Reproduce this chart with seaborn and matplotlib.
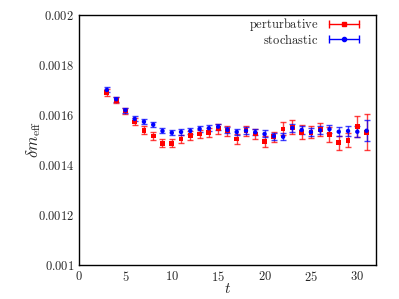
import matplotlib
matplotlib.use('Agg')
import matplotlib.pyplot as plt
import seaborn as sns
import pandas as pd
from matplotlib.lines import Line2D
from matplotlib.legend_handler import HandlerLine2D, HandlerTuple
from matplotlib.ticker import MultipleLocator, FuncFormatter

t = list(range(3, 32))

pert = [0.001691, 0.001659, 0.001616, 0.001572, 0.001539, 0.001516, 0.001487, 0.001487,
        0.001504, 0.001517, 0.001524, 0.001529, 0.001545, 0.001537, 0.001504, 0.001537,
        0.001524, 0.001493, 0.001513, 0.001544, 0.001551, 0.001531, 0.001531, 0.001541,
        0.001521, 0.001489, 0.001499, 0.001553, 0.001531]
pert_err = [0.000014, 0.000012, 0.000013, 0.000014, 0.000015, 0.000015, 0.000016, 0.000016,
            0.000016, 0.000017, 0.000017, 0.000017, 0.00002, 0.00002, 0.00002, 0.00002,
            0.000021, 0.000023, 0.00002, 0.000026, 0.000027, 0.000029, 0.000025, 0.000027,
            0.000029, 0.000028, 0.000029, 0.000043, 0.000073]

stoch = [0.0017, 0.001663, 0.001619, 0.001584, 0.001573, 0.001561, 0.001536, 0.001529,
         0.001532, 0.001536, 0.001544, 0.001547, 0.001553, 0.00154, 0.001532, 0.001537,
         0.001531, 0.001524, 0.001515, 0.001513, 0.001548, 0.00154, 0.001532, 0.001539,
         0.001543, 0.001533, 0.001536, 0.001533, 0.001537]
stoch_err = [0.00001, 0.00001, 0.00001, 0.00001, 0.00001, 0.00001, 0.00001, 0.00001,
             0.000011, 0.000011, 0.000012, 0.000012, 0.000012, 0.000012, 0.000013, 0.000013,
             0.000013, 0.000014, 0.000014, 0.000015, 0.000015, 0.000016, 0.000016, 0.000017,
             0.000017, 0.000018, 0.000019, 0.000023, 0.000042]

df = pd.DataFrame({'t': t, 'pert': pert, 'pert_err': pert_err,
                   'stoch': stoch, 'stoch_err': stoch_err})

sns.set_style('white')
plt.rcParams['font.family'] = ['DejaVu Serif']
plt.rcParams['mathtext.fontset'] = 'cm'

fig = plt.figure(figsize=(3.99, 2.99), dpi=100)
ax = fig.add_axes([0.198, 0.1137, 0.744, 0.8363])

ax.errorbar(df['t'], df['pert'], yerr=df['pert_err'], fmt='none', ecolor='red',
            elinewidth=1.0, capsize=2, capthick=1.0, alpha=0.75)
sns.scatterplot(data=df, x='t', y='pert', ax=ax, color='red', marker='s', s=12,
                edgecolor='none', zorder=3)
ax.errorbar(df['t'], df['stoch'], yerr=df['stoch_err'], fmt='none', ecolor='blue',
            elinewidth=1.0, capsize=2, capthick=1.0, alpha=0.75)
sns.scatterplot(data=df, x='t', y='stoch', ax=ax, color='blue', marker='o', s=10,
                edgecolor='none', zorder=4)

ax.set_xlim(0, 32)
ax.set_ylim(0.001, 0.002)
ax.xaxis.set_major_locator(MultipleLocator(5))
ax.xaxis.set_minor_locator(MultipleLocator(2.5))
ax.yaxis.set_major_locator(MultipleLocator(0.0002))
ax.yaxis.set_minor_locator(MultipleLocator(0.0001))
ax.xaxis.set_major_formatter(FuncFormatter(lambda v, p: f'${v:g}$'))
ax.yaxis.set_major_formatter(FuncFormatter(lambda v, p: '$%s$' % f'{v:.4f}'.rstrip('0')))
ax.tick_params(which='both', direction='in', top=False, right=False, labelsize=9,
               color='black', width=0.8)
ax.tick_params(which='major', length=4)
ax.tick_params(which='minor', length=2)
for sp in ax.spines.values():
    sp.set_color('black')
    sp.set_linewidth(1.0)

ax.set_xlabel('$t$', fontsize=11, labelpad=-1)
ax.set_ylabel(r'$\delta m_{\rm eff}$', fontsize=12, labelpad=-4)

handles = []
hmap = {}
for c, m, ms in [('red', 's', 3.5), ('blue', 'o', 3)]:
    bar = Line2D([], [], color=c, lw=1.0, marker='|', markersize=6, markeredgewidth=1.0)
    dot = Line2D([], [], color=c, marker=m, markersize=ms, linestyle='none')
    hmap[bar] = HandlerLine2D(numpoints=2)
    handles.append((bar, dot))
hmap[tuple] = HandlerTuple(ndivide=1)
ax.legend(handles, [r'$\mathrm{perturbative}$', r'$\mathrm{stochastic}$'],
          handler_map=hmap, loc='upper right', bbox_to_anchor=(0.965, 1.005),
          frameon=False, markerfirst=False, fontsize=9, handlelength=3.0,
          handletextpad=0.6, labelspacing=-0.05, borderaxespad=0.0, borderpad=0.2)

fig.savefig('out.png', dpi=100)
